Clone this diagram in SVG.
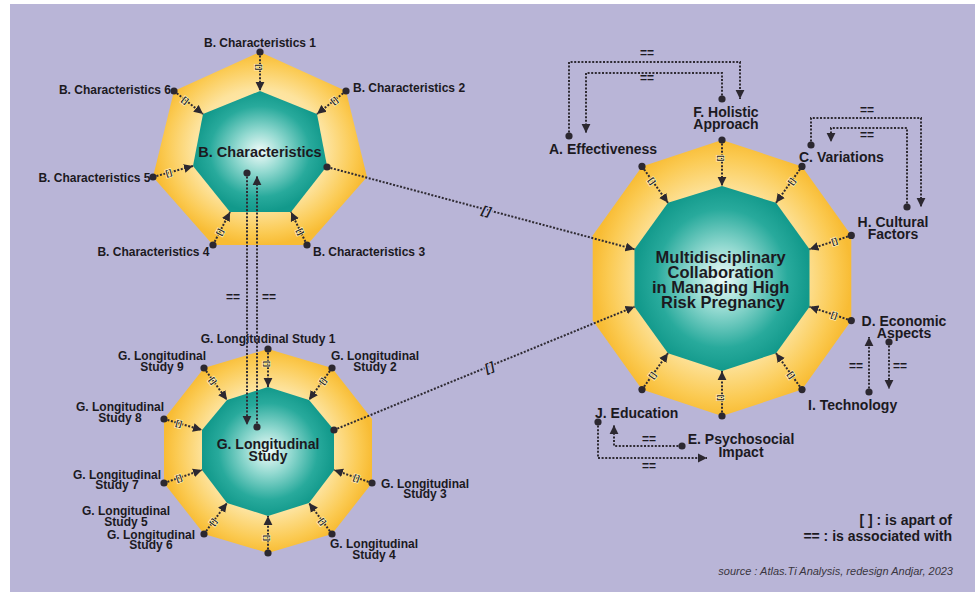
<svg xmlns="http://www.w3.org/2000/svg" width="979" height="592" viewBox="0 0 979 592">
  <defs>
    <radialGradient id="ring" cx="0.5" cy="0.5" r="0.5">
      <stop offset="0" stop-color="#fff8dc"/>
      <stop offset="0.62" stop-color="#fde39d"/>
      <stop offset="0.88" stop-color="#fbca52"/>
      <stop offset="1" stop-color="#f8bc34"/>
    </radialGradient>
    <radialGradient id="core" cx="0.5" cy="0.5" r="0.5">
      <stop offset="0" stop-color="#f0fbf9"/>
      <stop offset="0.35" stop-color="#92d9d0"/>
      <stop offset="0.75" stop-color="#28aa9c"/>
      <stop offset="1" stop-color="#12998b"/>
    </radialGradient>
    <marker id="dot" markerWidth="8" markerHeight="8" refX="4" refY="4" markerUnits="userSpaceOnUse">
      <circle cx="4" cy="4" r="3.6" fill="#2c2830"/>
    </marker>
    <marker id="arrow" markerWidth="10" markerHeight="10" refX="9" refY="5" orient="auto" markerUnits="userSpaceOnUse">
      <path d="M0,0.6 L9,5 L0,9.4 Z" fill="#2c2830"/>
    </marker>
    <style>
      .lbl{font-family:'Liberation Sans',Arial,sans-serif;font-weight:bold;fill:#1c1a1f}
      .s12{font-size:12px}
      .s14{font-size:14px}
      .mid{text-anchor:middle}
      .end{text-anchor:end}
      .link{fill:none;stroke:#2f2b33;stroke-width:2;stroke-dasharray:2 1.6;marker-start:url(#dot);marker-end:url(#arrow)}
      .tag{font-family:'Liberation Sans',Arial,sans-serif;font-weight:bold;font-size:8px;letter-spacing:0.6px;fill:#222;text-anchor:middle;stroke:#fdeab2;stroke-width:1.6px;paint-order:stroke}
      .bigtag{font-family:'Liberation Sans',Arial,sans-serif;font-weight:bold;font-style:italic;font-size:12px;letter-spacing:1.2px;fill:#1c1a1f;text-anchor:middle;stroke:#b9b5d7;stroke-width:3px;paint-order:stroke}
      .eq{font-family:'Liberation Sans',Arial,sans-serif;font-weight:bold;font-size:12px;fill:#1c1a1f;text-anchor:middle}
    </style>
  </defs>

  <!-- canvas -->
  <rect x="0" y="0" width="979" height="592" fill="#ffffff"/>
  <rect x="10" y="4" width="965" height="588" fill="#b9b5d7"/>

  <!-- B. Characteristics (heptagon) -->
  <g id="node-b">
    <polygon fill="url(#ring)" points="260,52 346,91 367,177 307,245 213,245 153,177 174,91"/>
    <polygon fill="url(#core)" points="260,91 317,114 327,166 291,212 230,212 193,166 203,114"/>
    <text class="lbl mid" x="260" y="156.5" font-size="14.5">B. Characteristics</text>
  </g>

  <!-- G. Longitudinal Study (decagon) -->
  <g id="node-g">
    <polygon fill="url(#ring)" points="268,349 332,368 372,419 372,483 332,534 268,553 204,534 164,483 164,419 204,368"/>
    <polygon fill="url(#core)" points="268,387 309,400 334,430 334,470 309,503 268,516 227,503 202,470 202,430 227,400"/>
    <text class="lbl mid" x="268" y="448.5" font-size="14">G. Longitudinal</text>
    <text class="lbl mid" x="268" y="461" font-size="14">Study</text>
  </g>

  <!-- Multidisciplinary Collaboration (decagon) -->
  <g id="node-main">
    <polygon fill="url(#ring)" points="722,140 802,166.4 851.3,235.4 851.3,320.6 802,389.6 722,416 642,389.6 592.7,320.6 592.7,235.4 642,166.4"/>
    <polygon fill="url(#core)" points="722,186 776,202.8 809.5,249.3 809.5,306.7 776,353.2 722,371 668,353.2 634.5,306.7 634.5,249.3 668,202.8"/>
    <text class="lbl mid" font-size="16.5">
      <tspan x="723" y="263">Multidisciplinary</tspan>
      <tspan x="723" y="278">Collaboration</tspan>
      <tspan x="723" y="293">in Managing High</tspan>
      <tspan x="723" y="307.5">Risk Pregnancy</tspan>
    </text>
  </g>

  <!-- satellite labels: B -->
  <g id="node-b1"><text class="lbl s12 mid" x="260" y="47">B. Characteristics 1</text></g>
  <g id="node-b2"><text class="lbl s12" x="353" y="91.5">B. Characteristics 2</text></g>
  <g id="node-b3"><text class="lbl s12" x="313" y="255.5">B. Characteristics 3</text></g>
  <g id="node-b4"><text class="lbl s12 end" x="209.5" y="255.5">B. Characteristics 4</text></g>
  <g id="node-b5"><text class="lbl s12 end" x="150.5" y="181.5">B. Characteristics 5</text></g>
  <g id="node-b6"><text class="lbl s12 end" x="171" y="94">B. Characteristics 6</text></g>

  <!-- satellite labels: G -->
  <g id="node-g1"><text class="lbl s12 mid" x="268" y="342.5">G. Longitudinal Study 1</text></g>
  <g id="node-g2"><text class="lbl s12 mid"><tspan x="375" y="360">G. Longitudinal</tspan><tspan x="375" y="371">Study 2</tspan></text></g>
  <g id="node-g3"><text class="lbl s12 mid"><tspan x="425" y="487.5">G. Longitudinal</tspan><tspan x="425" y="498">Study 3</tspan></text></g>
  <g id="node-g4"><text class="lbl s12 mid"><tspan x="374" y="547.5">G. Longitudinal</tspan><tspan x="374" y="558.5">Study 4</tspan></text></g>
  <g id="node-g5"><text class="lbl s12 mid"><tspan x="126" y="515">G. Longitudinal</tspan><tspan x="126" y="525.5">Study 5</tspan></text></g>
  <g id="node-g6"><text class="lbl s12 mid"><tspan x="151" y="538.5">G. Longitudinal</tspan><tspan x="151" y="548.5">Study 6</tspan></text></g>
  <g id="node-g7"><text class="lbl s12 mid"><tspan x="117" y="478.5">G. Longitudinal</tspan><tspan x="117" y="489">Study 7</tspan></text></g>
  <g id="node-g8"><text class="lbl s12 mid"><tspan x="120" y="411">G. Longitudinal</tspan><tspan x="120" y="422">Study 8</tspan></text></g>
  <g id="node-g9"><text class="lbl s12 mid"><tspan x="162" y="360">G. Longitudinal</tspan><tspan x="162" y="371">Study 9</tspan></text></g>

  <!-- satellite labels: main -->
  <g id="node-a"><text class="lbl s14" x="549" y="154">A. Effectiveness</text></g>
  <g id="node-f"><text class="lbl s14 mid"><tspan x="726" y="117">F. Holistic</tspan><tspan x="726" y="129">Approach</tspan></text></g>
  <g id="node-c"><text class="lbl s14" x="799" y="162">C. Variations</text></g>
  <g id="node-h"><text class="lbl s14 mid"><tspan x="893" y="227">H. Cultural</tspan><tspan x="893" y="239">Factors</tspan></text></g>
  <g id="node-d"><text class="lbl s14 mid"><tspan x="904" y="326">D. Economic</tspan><tspan x="904" y="338">Aspects</tspan></text></g>
  <g id="node-i"><text class="lbl s14" x="808" y="410">I. Technology</text></g>
  <g id="node-j"><text class="lbl s14" x="595" y="417.5">J. Education</text></g>
  <g id="node-e"><text class="lbl s14 mid"><tspan x="741" y="444">E. Psychosocial</tspan><tspan x="741" y="456.5">Impact</tspan></text></g>

  <!-- connectors -->
  <g id="connectors">
    <!-- spokes of B -->
    <path class="link" d="M260,52 L260,91"/>
    <path class="link" d="M346,91 L317,114"/>
    <path class="link" d="M307,245 L291,212"/>
    <path class="link" d="M213,245 L230,212"/>
    <path class="link" d="M153,177 L193,166"/>
    <path class="link" d="M174,91 L203,114"/>
    <!-- spokes of G -->
    <path class="link" d="M268,349 L268,387"/>
    <path class="link" d="M332,368 L309,400"/>
    <path class="link" d="M372,483 L334,470"/>
    <path class="link" d="M332,534 L309,503"/>
    <path class="link" d="M268,553 L268,516"/>
    <path class="link" d="M204,534 L227,503"/>
    <path class="link" d="M164,483 L202,470"/>
    <path class="link" d="M164,419 L202,430"/>
    <path class="link" d="M204,368 L227,400"/>
    <!-- spokes of main -->
    <path class="link" d="M722,140 L722,186"/>
    <path class="link" d="M802,166.4 L776,202.8"/>
    <path class="link" d="M851.3,235.4 L809.5,249.3"/>
    <path class="link" d="M851.3,320.6 L809.5,306.7"/>
    <path class="link" d="M802,389.6 L776,353.2"/>
    <path class="link" d="M722,416 L722,371"/>
    <path class="link" d="M642,389.6 L668,353.2"/>
    <path class="link" d="M642,166.4 L668,202.8"/>

    <!-- B / G association -->
    <path class="link" d="M247,173 V425"/>
    <path class="link" d="M257,427 V176"/>
    <!-- part-of links into main -->
    <path class="link" d="M327,167 L634.5,249.3"/>
    <path class="link" d="M334,430 L634.5,306.7"/>
    <!-- associations around main -->
    <path class="link" d="M569,136 V62 H740 V99"/>
    <path class="link" d="M722,99 V73 H586 V133"/>
    <path class="link" d="M811,145 V118 H921 V207"/>
    <path class="link" d="M907,207 V128 H831 V142"/>
    <path class="link" d="M869,392 V337"/>
    <path class="link" d="M889,342 V389"/>
    <path class="link" d="M598,422 V458 H707"/>
    <path class="link" d="M682,446 H614 V425"/>

    <!-- spoke tags -->
    <g>
      <text class="tag" transform="translate(260,67.6) rotate(90)" dy="2.8">[]</text>
      <text class="tag" transform="translate(334.4,100.2) rotate(-38.4)" dy="2.8">[]</text>
      <text class="tag" transform="translate(300.6,231.8) rotate(64.1)" dy="2.8">[]</text>
      <text class="tag" transform="translate(219.8,231.8) rotate(-62.7)" dy="2.8">[]</text>
      <text class="tag" transform="translate(169,172.6) rotate(-15.4)" dy="2.8">[]</text>
      <text class="tag" transform="translate(185.6,100.2) rotate(38.4)" dy="2.8">[]</text>

      <text class="tag" transform="translate(268,364.2) rotate(90)" dy="2.8">[]</text>
      <text class="tag" transform="translate(322.8,380.8) rotate(-54.3)" dy="2.8">[]</text>
      <text class="tag" transform="translate(356.8,477.8) rotate(18.9)" dy="2.8">[]</text>
      <text class="tag" transform="translate(322.8,521.6) rotate(53.4)" dy="2.8">[]</text>
      <text class="tag" transform="translate(268,538.2) rotate(90)" dy="2.8">[]</text>
      <text class="tag" transform="translate(213.2,521.6) rotate(-53.4)" dy="2.8">[]</text>
      <text class="tag" transform="translate(179.2,477.8) rotate(-18.9)" dy="2.8">[]</text>
      <text class="tag" transform="translate(179.2,423.4) rotate(16.1)" dy="2.8">[]</text>
      <text class="tag" transform="translate(213.2,380.8) rotate(54.3)" dy="2.8">[]</text>

      <text class="tag" transform="translate(722,158.4) rotate(90)" dy="2.8">[]</text>
      <text class="tag" transform="translate(791.6,181) rotate(-54.5)" dy="2.8">[]</text>
      <text class="tag" transform="translate(834.6,241) rotate(-18.4)" dy="2.8">[]</text>
      <text class="tag" transform="translate(834.6,315) rotate(18.4)" dy="2.8">[]</text>
      <text class="tag" transform="translate(791.6,375) rotate(54.5)" dy="2.8">[]</text>
      <text class="tag" transform="translate(722,398) rotate(90)" dy="2.8">[]</text>
      <text class="tag" transform="translate(652.4,375) rotate(-54.5)" dy="2.8">[]</text>
      <text class="tag" transform="translate(652.4,181) rotate(54.5)" dy="2.8">[]</text>
    </g>
    <!-- link tags -->
    <text class="bigtag" transform="translate(487,211) rotate(15)" dy="4">[]</text>
    <text class="bigtag" transform="translate(490,367) rotate(-22.3)" dy="4">[]</text>
    <text class="eq" x="233" y="301">==</text>
    <text class="eq" x="269" y="301">==</text>
    <text class="eq" x="647" y="57">==</text>
    <text class="eq" x="647" y="82">==</text>
    <text class="eq" x="867" y="114">==</text>
    <text class="eq" x="867" y="139">==</text>
    <text class="eq" x="856" y="370">==</text>
    <text class="eq" x="900" y="370">==</text>
    <text class="eq" x="649" y="443">==</text>
    <text class="eq" x="649" y="470">==</text>
  </g>

  <!-- legend -->
  <g id="legend">
    <text class="lbl s14 end" x="952" y="525">[ ] : is apart of</text>
    <text class="lbl s14 end" x="952" y="541">== : is associated with</text>
    <text x="953" y="575" text-anchor="end" font-family="'Liberation Sans',Arial,sans-serif" font-style="italic" font-size="11" fill="#3a3640">source : Atlas.Ti Analysis, redesign Andjar, 2023</text>
  </g>
</svg>
